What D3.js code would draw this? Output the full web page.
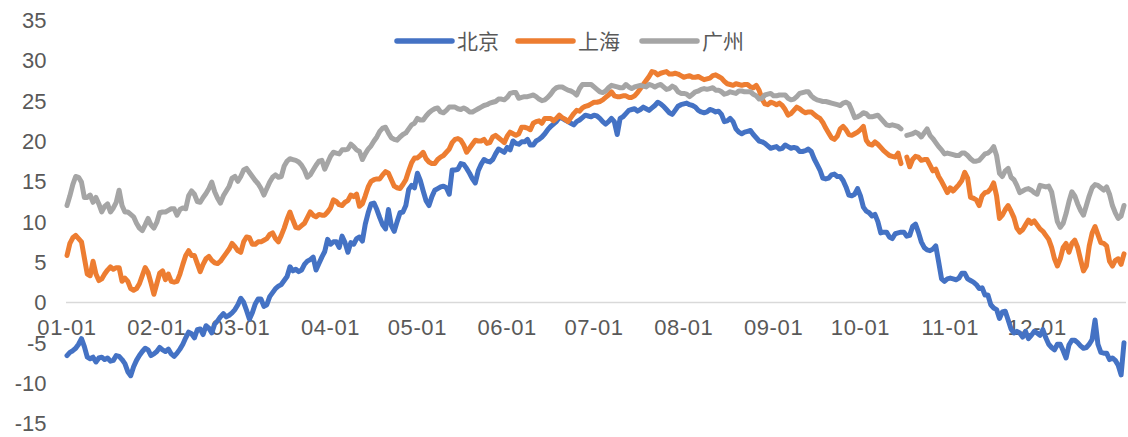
<!DOCTYPE html>
<html>
<head>
<meta charset="utf-8">
<script src="https://cdn.jsdelivr.net/npm/d3@7"></script>
<style>
  html, body { margin: 0; padding: 0; background: #fff; }
  svg { display: block; }
</style>
</head>
<body>
<svg id="chart" width="1128" height="437"></svg>
<script>
// daily temperature, 2020 (366 days)
const seriesNames = ["北京", "上海", "广州"];
const seriesColors = ["#4472C4", "#ED7D31", "#A5A5A5"];

const beijing = [
  -6.6,-6.2,-6.0,-5.7,-5.2,-4.5,-5.5,-6.8,-7.0,-6.8,
  -7.4,-6.9,-6.8,-7.1,-6.9,-7.3,-7.2,-6.6,-6.7,-7.1,
  -7.6,-8.6,-9.1,-8.0,-7.2,-6.6,-6.1,-5.7,-5.9,-6.6,
  -6.4,-6.1,-5.6,-5.9,-6.1,-5.8,-6.4,-6.7,-6.3,-5.8,
  -5.2,-4.4,-3.7,-3.9,-4.4,-3.4,-3.3,-4.0,-2.9,-3.2,
  -3.8,-2.7,-2.3,-1.8,-1.4,-1.8,-1.6,-1.3,-0.9,-0.3,
  0.5,0.0,-1.0,-2.1,-1.3,-0.2,0.4,0.4,-0.5,-0.3,
  0.7,1.2,1.7,2.0,2.2,2.7,3.2,4.4,3.9,4.1,
  3.8,4.0,4.7,5.1,5.3,5.6,4.0,4.8,5.6,6.3,
  7.8,7.2,7.5,7.5,6.8,8.2,7.4,6.2,7.4,7.2,
  7.9,8.1,7.6,9.7,11.1,12.2,12.3,11.5,10.5,9.6,
  9.1,11.5,9.5,8.8,10.0,11.1,11.2,12.0,14.0,14.5,
  14.2,16.0,15.1,13.8,12.6,12.0,13.1,13.9,14.1,14.3,
  14.4,14.2,13.4,16.4,16.4,16.5,17.2,17.1,16.6,16.0,
  15.3,14.8,16.3,17.1,17.7,17.5,17.4,17.7,18.4,19.0,
  18.8,18.6,19.2,18.9,20.0,19.7,19.6,19.9,19.9,20.2,
  19.5,19.5,20.0,20.2,20.5,20.9,21.4,21.8,22.1,22.4,
  22.9,22.8,22.6,22.4,22.2,22.0,22.4,22.6,22.9,23.2,
  23.1,23.0,23.2,23.1,22.8,22.4,22.1,22.4,22.8,22.4,
  20.8,22.8,23.0,23.4,23.8,23.9,24.0,23.7,23.9,24.2,
  24.0,23.8,24.1,24.4,24.8,24.6,24.3,23.9,23.5,23.3,
  23.8,24.3,24.5,24.6,24.7,24.5,24.4,24.2,23.8,23.6,
  23.5,23.6,23.9,23.8,23.6,23.7,23.3,22.4,22.5,22.8,
  22.4,21.5,21.1,20.9,21.1,21.2,21.3,20.8,20.4,20.0,
  19.9,19.7,19.4,19.1,19.2,19.3,19.0,19.1,19.5,19.3,
  19.1,19.2,19.1,18.7,18.7,18.8,19.0,18.7,17.8,17.1,
  16.4,15.4,15.3,15.4,15.8,15.9,15.6,15.6,15.1,14.3,
  13.3,13.2,13.4,14.1,13.2,11.8,11.3,11.1,10.7,10.9,
  10.0,8.6,8.7,8.7,8.1,7.9,8.5,8.6,8.7,8.7,
  8.2,8.3,9.4,9.7,8.7,7.5,6.8,6.5,6.4,6.6,
  7.0,5.0,2.9,2.6,2.9,3.0,2.9,2.8,3.0,3.6,
  3.6,2.9,2.7,2.5,2.2,1.7,1.8,0.9,0.9,-0.3,
  -0.7,-0.9,-2.0,-1.2,-1.1,-2.2,-3.3,-3.8,-3.6,-3.8,
  -4.3,-3.6,-4.5,-4.1,-3.6,-3.8,-4.1,-3.4,-4.4,-5.2,
  -5.6,-5.9,-5.2,-5.2,-6.0,-6.9,-5.3,-4.7,-4.7,-5.0,
  -5.4,-5.7,-5.6,-5.2,-4.6,-2.2,-5.2,-6.2,-6.3,-6.3,
  -7.1,-6.9,-7.2,-7.8,-9.0,-5.0
];

const shanghai = [
  5.8,7.3,8.0,8.3,7.9,7.5,5.5,3.5,3.3,5.1,
  3.5,2.7,2.9,3.5,4.0,4.4,4.1,4.3,4.3,2.6,
  3.0,2.6,1.7,1.5,1.7,2.3,3.3,4.3,3.7,2.4,
  1.0,2.3,3.6,3.9,2.8,3.5,2.6,2.5,2.6,3.5,
  4.7,5.8,6.4,5.8,5.8,4.8,3.8,4.7,5.4,5.7,
  5.2,4.9,4.8,5.1,5.6,6.1,6.6,7.3,6.9,6.4,
  6.2,7.5,8.1,8.0,7.2,7.2,7.5,7.5,7.7,7.9,
  8.4,8.6,7.9,7.5,8.3,9.2,10.3,11.2,10.2,9.3,
  9.2,9.5,9.8,10.5,11.2,10.8,10.6,10.9,10.8,10.8,
  11.2,11.7,12.7,12.5,12.1,12.0,12.4,12.6,13.3,13.1,
  13.4,11.9,12.2,13.2,14.3,15.0,15.2,15.3,15.3,15.8,
  16.2,16.0,15.2,14.4,14.2,14.1,14.6,15.2,16.3,17.3,
  17.9,17.9,18.2,18.6,17.8,17.4,17.2,17.2,17.7,18.0,
  18.2,18.6,19.0,19.8,20.2,20.3,20.1,19.5,18.6,19.1,
  19.6,20.1,20.0,20.0,20.2,19.7,19.8,20.5,20.7,20.4,
  20.1,19.8,20.6,21.1,20.9,20.7,20.9,21.7,21.7,21.6,
  21.4,22.2,22.4,22.5,22.2,22.8,22.8,22.8,22.5,22.8,
  23.2,22.9,22.7,22.4,22.9,23.4,23.8,23.7,24.1,24.3,
  24.4,24.6,24.8,24.8,24.9,25.1,25.4,25.7,26.1,25.6,
  25.5,25.5,25.6,25.6,25.4,25.4,25.6,26.0,26.5,27.0,
  27.5,28.0,28.6,28.5,28.2,28.4,28.5,28.6,28.3,28.3,
  28.4,28.3,28.1,27.9,28.0,28.1,27.9,27.9,28.0,27.8,
  27.6,27.7,27.8,28.1,28.2,28.0,27.8,27.4,27.1,27.0,
  26.9,27.1,27.0,26.9,27.0,27.0,26.7,26.6,26.9,26.3,
  25.2,24.6,24.5,24.8,24.7,24.5,24.7,24.4,23.9,23.2,
  23.4,23.8,24.2,24.0,23.7,23.5,23.6,23.6,23.3,23.0,
  22.8,22.3,21.6,21.0,20.4,20.2,20.6,21.5,21.8,21.4,
  20.8,20.7,20.9,21.1,21.4,21.8,20.1,19.6,19.5,19.9,
  19.6,19.2,18.8,18.5,18.2,18.1,18.0,18.5,17.2,null,
  18.0,16.8,17.7,18.1,18.0,17.6,17.7,17.7,17.0,16.3,
  16.5,15.6,15.0,14.3,13.6,14.2,13.8,14.2,14.6,15.1,
  16.1,15.4,13.0,12.9,12.7,12.0,13.2,13.6,13.7,14.1,
  14.8,13.2,10.4,10.8,11.5,12.0,11.3,10.5,9.2,8.7,
  9.0,9.6,10.2,9.8,10.1,9.6,9.1,8.8,8.3,7.8,
  6.8,5.4,4.5,5.4,6.8,7.3,6.2,7.3,7.7,6.8,
  5.3,3.9,4.5,7.0,8.6,9.4,8.4,7.4,7.3,7.0,
  5.1,4.5,5.2,5.4,4.7,6.0
];

const guangzhou = [
  12.0,13.2,14.6,15.6,15.5,14.9,13.0,13.0,13.3,12.4,
  13.0,12.2,11.2,11.9,12.2,11.2,11.7,12.4,13.9,12.0,
  11.2,11.2,10.9,10.6,9.8,9.2,8.9,9.6,10.4,9.6,
  9.2,9.9,11.1,11.2,11.2,11.4,11.6,11.6,10.8,11.5,
  11.7,11.6,13.2,13.8,13.4,12.5,12.4,13.0,13.5,14.1,
  14.9,13.7,12.9,12.3,13.2,13.8,14.4,15.4,15.6,15.0,
  15.6,16.4,16.6,16.1,15.6,15.1,14.7,14.1,13.3,14.1,
  14.9,15.5,15.8,15.5,15.6,16.9,17.5,17.8,17.7,17.6,
  17.4,17.0,16.4,15.5,15.8,16.4,17.0,17.5,17.6,16.5,
  17.3,18.1,18.6,18.5,18.4,18.9,18.9,19.0,19.6,19.3,
  18.9,18.7,17.7,18.4,19.0,19.4,20.0,20.5,21.2,21.6,
  21.7,21.0,20.4,20.2,20.1,20.5,20.8,21.0,21.5,22.0,
  22.2,22.8,22.6,22.6,23.1,23.5,23.8,24.0,24.1,23.6,
  23.5,23.8,24.2,24.2,24.2,24.0,23.9,24.1,23.9,23.6,
  23.6,23.8,24.0,24.2,24.4,24.5,24.7,24.8,24.9,25.2,
  25.2,25.1,25.4,25.9,26.0,26.0,25.3,25.4,25.5,25.5,
  25.6,25.7,25.5,25.2,25.0,25.1,25.4,25.8,26.3,26.6,
  26.7,26.7,26.5,26.3,26.2,26.0,25.7,26.5,27.0,27.0,
  27.0,27.0,26.7,26.4,26.1,26.0,26.2,26.6,26.9,26.8,
  26.7,26.6,26.6,27.0,26.7,26.5,26.7,26.8,26.9,26.8,
  26.7,27.0,26.9,26.7,26.9,27.0,26.7,26.4,26.5,26.8,
  26.6,26.1,25.9,25.9,25.8,25.5,25.8,26.1,26.2,26.4,
  26.5,26.4,26.5,26.6,26.3,26.3,26.1,25.8,25.9,26.1,
  26.0,25.9,26.2,26.2,26.1,26.1,26.1,25.8,25.6,25.2,
  25.3,25.7,25.8,25.9,25.6,25.6,25.7,25.7,25.7,25.3,
  25.1,25.2,25.5,25.9,26.0,26.1,26.1,25.6,25.3,25.1,
  25.0,24.9,24.9,24.8,24.7,24.6,24.5,24.4,24.7,24.8,
  24.6,23.8,22.9,23.0,23.2,23.5,23.4,23.0,23.0,23.1,
  23.2,22.8,22.4,22.0,21.9,22.0,21.9,21.8,21.5,null,
  20.7,20.8,20.9,21.1,20.9,20.5,21.0,21.5,20.7,20.3,
  19.8,19.3,18.9,18.4,18.5,18.4,18.3,18.2,18.2,18.5,
  18.5,18.2,17.8,17.5,17.5,17.6,18.0,18.4,18.5,18.8,
  19.3,18.2,16.0,15.6,16.3,16.6,15.5,15.2,14.5,13.6,
  13.8,14.0,14.1,13.9,13.6,13.4,14.5,14.4,14.3,14.4,
  13.7,11.8,10.0,9.3,9.8,11.0,12.5,13.7,13.2,12.2,
  11.4,10.8,12.0,13.2,14.2,14.6,14.5,14.2,13.9,14.3,
  13.4,12.0,11.1,10.4,10.7,12.0
];

const yTicks = [-15, -10, -5, 0, 5, 10, 15, 20, 25, 30, 35];

const startDate = new Date(Date.UTC(2020, 0, 1));
const endDate = new Date(Date.UTC(2020, 11, 31));
const dates = d3.utcDay.range(startDate, d3.utcDay.offset(endDate, 1));
const monthTicks = d3.utcMonth.range(startDate, endDate);

const svg = d3.select("#chart");
const textColor = "#595959";
const numFont = "'Liberation Sans', Arial, sans-serif";
const cjkFont = "'Noto Sans CJK SC', sans-serif";

const x = d3.scaleUtc().domain([startDate, endDate]).range([67, 1124]);
const y = d3.scaleLinear().domain([-15, 35]).range([423.3, 20]);

// y labels (no axis line, no gridlines)
svg.append("g")
    .selectAll("text")
    .data(yTicks)
    .enter()
    .append("text")
    .attr("x", 46.5)
    .attr("y", d => y(d) + 8)
    .attr("text-anchor", "end")
    .attr("font-family", numFont)
    .attr("font-size", 22)
    .attr("fill", textColor)
    .text(d => d);

// horizontal axis at zero
svg.append("line")
    .attr("x1", 66)
    .attr("x2", 1126)
    .attr("y1", Math.round(y(0)) + 0.5)
    .attr("y2", Math.round(y(0)) + 0.5)
    .attr("stroke", "#D9D9D9")
    .attr("stroke-width", 1.5);

const fmt = d3.utcFormat("%m-%d");
svg.append("g")
    .selectAll("text")
    .data(monthTicks)
    .enter()
    .append("text")
    .attr("x", d => x(d))
    .attr("y", y(0) + 33)
    .attr("text-anchor", "middle")
    .attr("font-family", numFont)
    .attr("font-size", 22)
    .attr("letter-spacing", 0.6)
    .attr("fill", textColor)
    .text(d => fmt(d));

// lines
const allSeries = [beijing, shanghai, guangzhou];
const line = d3.line()
    .defined(d => d.v !== null)
    .x(d => x(d.date))
    .y(d => y(d.v));

svg.append("g")
    .selectAll("path")
    .data(allSeries)
    .enter()
    .append("path")
    .attr("d", vals => line(vals.map((v, i) => ({date: dates[i], v: v}))))
    .attr("fill", "none")
    .attr("stroke", (d, i) => seriesColors[i])
    .attr("stroke-width", 5)
    .attr("stroke-linejoin", "round")
    .attr("stroke-linecap", "round");

// legend
const legendX = [397, 518, 642];
const legend = svg.append("g")
    .selectAll("g")
    .data(seriesNames)
    .enter()
    .append("g")
    .attr("transform", (d, i) => `translate(${legendX[i]},41)`);

legend.append("line")
    .attr("x1", 0)
    .attr("x2", 55)
    .attr("stroke", (d, i) => seriesColors[i])
    .attr("stroke-width", 5.5)
    .attr("stroke-linecap", "round");

legend.append("text")
    .attr("x", 60)
    .attr("y", 7.5)
    .attr("font-family", cjkFont)
    .attr("font-size", 21)
    .attr("fill", textColor)
    .text(d => d);
</script>
</body>
</html>
